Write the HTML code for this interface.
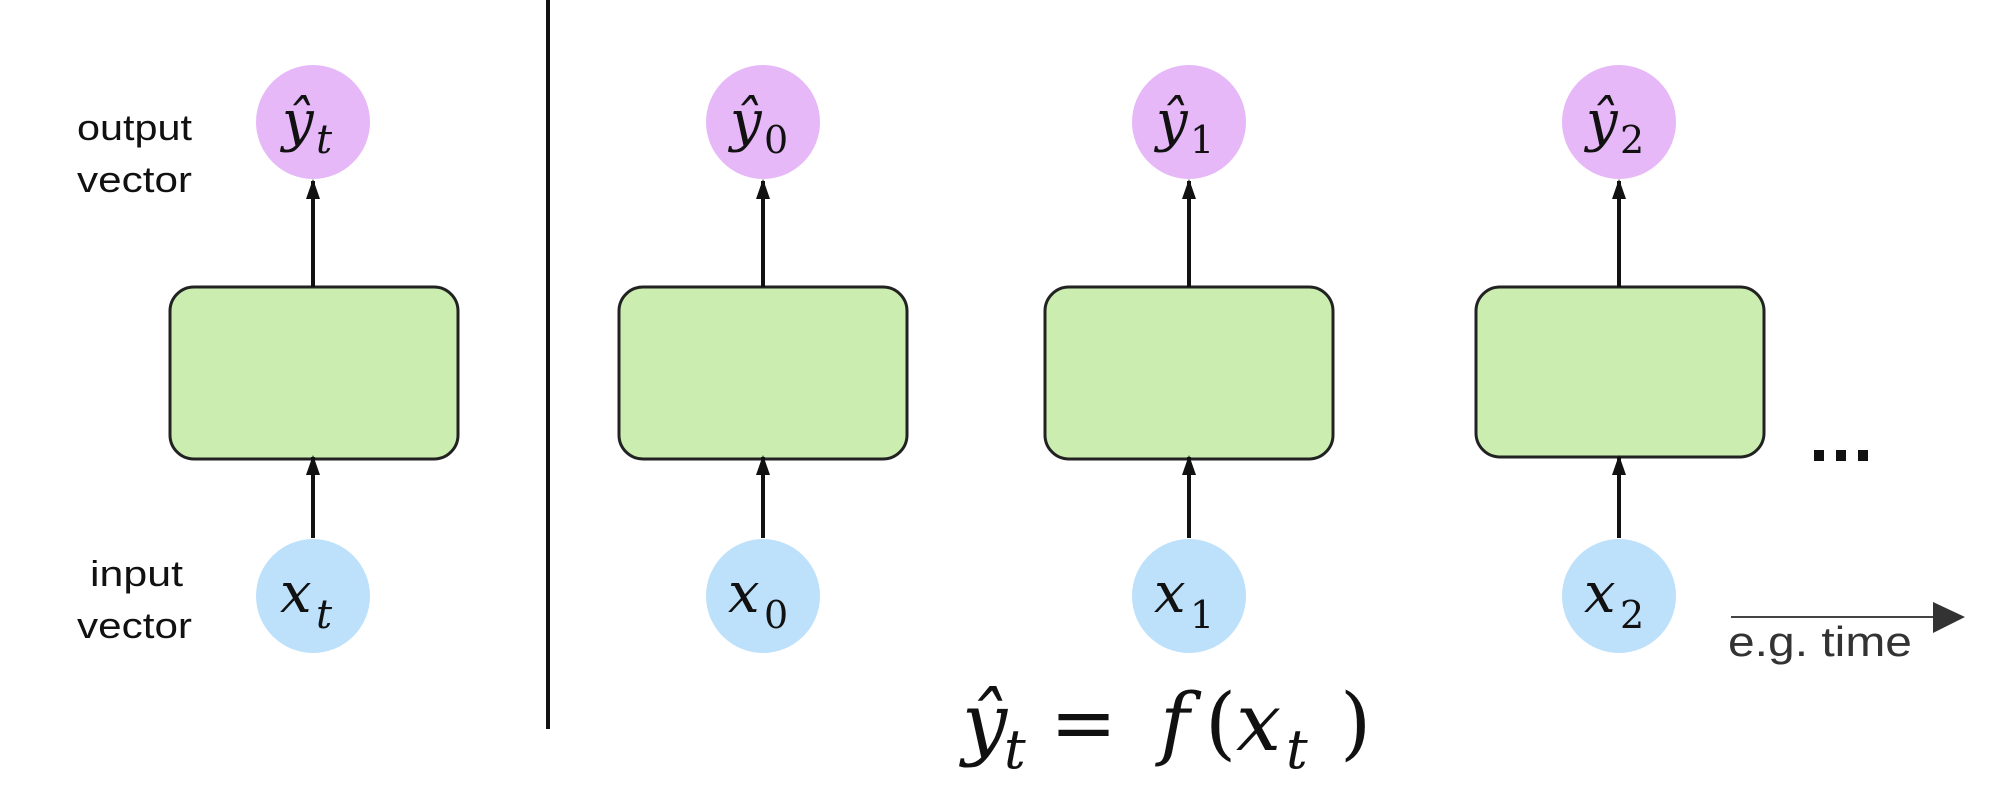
<!DOCTYPE html>
<html><head><meta charset="utf-8"><style>
html,body{margin:0;padding:0;background:#fff;}
svg{display:block;}
.lab{font-family:"Liberation Sans",sans-serif;fill:#111;}
.m{font-family:"DejaVu Serif","Liberation Serif",serif;font-style:italic;fill:#111;}
.sub{font-family:"DejaVu Serif","Liberation Serif",serif;fill:#111;}
</style></head><body>
<svg width="1999" height="799" viewBox="0 0 1999 799" xmlns="http://www.w3.org/2000/svg">
<defs>
<marker id="ah" markerWidth="20" markerHeight="16" refX="18" refY="8" orient="auto" markerUnits="userSpaceOnUse">
<path d="M0,1 L20,8 L0,15 z" fill="#111"/>
</marker>
</defs>
<line x1="548" y1="0" x2="548" y2="729" stroke="#111" stroke-width="4"/>

<g>
<circle cx="313" cy="122" r="57" fill="#e6b8f8"/>
<rect x="170" y="287" width="288" height="172" rx="24" fill="#cbedb0" stroke="#222" stroke-width="3"/>
<line x1="313" y1="287" x2="313" y2="181" stroke="#111" stroke-width="4" marker-end="url(#ah)"/>
<circle cx="313" cy="596" r="57" fill="#bde0fb"/>
<line x1="313" y1="538" x2="313" y2="457" stroke="#111" stroke-width="4" marker-end="url(#ah)"/>
<text class="m" x="282" y="140" font-size="56">ŷ</text><text class="m" x="316" y="153" font-size="40">t</text>
<text class="m" x="280" y="612" font-size="56">x</text><text class="m" x="316" y="628" font-size="40">t</text>
</g>

<g>
<circle cx="763" cy="122" r="57" fill="#e6b8f8"/>
<rect x="619" y="287" width="288" height="172" rx="24" fill="#cbedb0" stroke="#222" stroke-width="3"/>
<line x1="763" y1="287" x2="763" y2="181" stroke="#111" stroke-width="4" marker-end="url(#ah)"/>
<circle cx="763" cy="596" r="57" fill="#bde0fb"/>
<line x1="763" y1="538" x2="763" y2="457" stroke="#111" stroke-width="4" marker-end="url(#ah)"/>
<text class="m" x="730" y="140" font-size="56">ŷ</text><text class="sub" x="764" y="153" font-size="38">0</text>
<text class="m" x="728" y="612" font-size="56">x</text><text class="sub" x="764" y="628" font-size="38">0</text>
</g>

<g>
<circle cx="1189" cy="122" r="57" fill="#e6b8f8"/>
<rect x="1045" y="287" width="288" height="172" rx="24" fill="#cbedb0" stroke="#222" stroke-width="3"/>
<line x1="1189" y1="287" x2="1189" y2="181" stroke="#111" stroke-width="4" marker-end="url(#ah)"/>
<circle cx="1189" cy="596" r="57" fill="#bde0fb"/>
<line x1="1189" y1="538" x2="1189" y2="457" stroke="#111" stroke-width="4" marker-end="url(#ah)"/>
<text class="m" x="1156" y="140" font-size="56">ŷ</text><text class="sub" x="1190" y="153" font-size="38">1</text>
<text class="m" x="1154" y="612" font-size="56">x</text><text class="sub" x="1190" y="628" font-size="38">1</text>
</g>

<g>
<circle cx="1619" cy="122" r="57" fill="#e6b8f8"/>
<rect x="1476" y="287" width="288" height="170" rx="24" fill="#cbedb0" stroke="#222" stroke-width="3"/>
<line x1="1619" y1="287" x2="1619" y2="181" stroke="#111" stroke-width="4" marker-end="url(#ah)"/>
<circle cx="1619" cy="596" r="57" fill="#bde0fb"/>
<line x1="1619" y1="538" x2="1619" y2="457" stroke="#111" stroke-width="4" marker-end="url(#ah)"/>
<text class="m" x="1586" y="140" font-size="56">ŷ</text><text class="sub" x="1620" y="153" font-size="38">2</text>
<text class="m" x="1584" y="612" font-size="56">x</text><text class="sub" x="1620" y="628" font-size="38">2</text>
</g>

<text class="lab" x="77" y="140" font-size="36" textLength="115" lengthAdjust="spacingAndGlyphs">output</text>
<text class="lab" x="77" y="192" font-size="36" textLength="115" lengthAdjust="spacingAndGlyphs">vector</text>
<text class="lab" x="90" y="586" font-size="36" textLength="93" lengthAdjust="spacingAndGlyphs">input</text>
<text class="lab" x="77" y="638" font-size="36" textLength="115" lengthAdjust="spacingAndGlyphs">vector</text>

<rect x="1814" y="450" width="10" height="11" fill="#111"/>
<rect x="1836" y="450" width="10" height="11" fill="#111"/>
<rect x="1858" y="450" width="10" height="11" fill="#111"/>

<line x1="1731" y1="617" x2="1935" y2="617" stroke="#444" stroke-width="2"/>
<path d="M1933,602 L1965,617 L1933,633 z" fill="#333"/>
<text class="lab" x="1728" y="656" font-size="42" style="fill:#333" textLength="184" lengthAdjust="spacingAndGlyphs">e.g. time</text>

<text class="m" x="962" y="750" font-size="80">ŷ</text>
<text class="m" x="1004" y="768" font-size="54">t</text>
<text class="sub" x="1050" y="750" font-size="80">=</text>
<text class="m" x="1160" y="750" font-size="80">f</text>
<text class="sub" x="1205" y="750" font-size="80">(</text>
<text class="m" x="1236" y="750" font-size="80">x</text>
<text class="m" x="1286" y="768" font-size="54">t</text>
<text class="sub" x="1340" y="750" font-size="80">)</text>
</svg>
</body></html>
